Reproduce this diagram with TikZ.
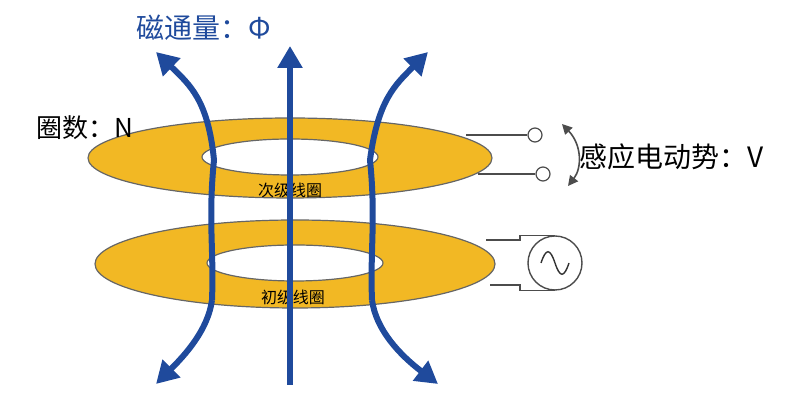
\documentclass[tikz,border=0pt]{standalone}
\usepackage{fontspec}
\setmainfont{Noto Sans CJK SC}
\usetikzlibrary{arrows.meta}
\definecolor{fluxblue}{HTML}{1F4A9C}
\definecolor{coilyellow}{HTML}{F2B824}
\tikzset{
  coil/.style={fill=coilyellow,draw=black!60,line width=0.6pt,even odd rule},
  flux/.style={fluxblue,line width=3pt,-{Triangle[width=12pt,length=11pt]}},
  lead/.style={draw=black!70,line width=0.6pt},
  term/.style={circle,draw=black!70,fill=white,line width=0.6pt,minimum size=7pt,inner sep=0pt}
}
\begin{document}
\begin{tikzpicture}[x=0.5pt,y=-0.5pt]
\useasboundingbox (0,0) rectangle (800,410);

% primary coil
\fill[coil] (295,264) ellipse [x radius=200,y radius=44] (295,263) ellipse [x radius=88,y radius=18];
\node[font=\fontsize{8}{9}\selectfont] (prim) at (293,297) {初级线圈};

% secondary coil
\fill[coil] (290,158) ellipse [x radius=202,y radius=40] (290,157) ellipse [x radius=88,y radius=18];
\node[font=\fontsize{8}{9}\selectfont] (sec) at (290,190) {次级线圈};

% flux lines
\draw[flux] (290,385) -- (290,46);
\draw[flux] (212,300) .. controls (214,250) and (208,220) .. (214,160)
  .. controls (208,100) and (190,85) .. (156,52);
\draw[flux] (372,300) .. controls (370,250) and (376,220) .. (370,160)
  .. controls (378,100) and (395,85) .. (428,52);
\draw[flux] (212,300) .. controls (208,330) and (185,355) .. (156,384);
\draw[flux] (372,300) .. controls (376,330) and (400,355) .. (438,384);

% secondary leads
\node[term] (t1) at (535,135) {};
\node[term] (t2) at (543,174) {};
\coordinate (s1) at (466,135);
\coordinate (s2) at (478,174);
\draw[lead] (s1) -- (t1);
\draw[lead] (s2) -- (t2);
\coordinate (v1) at (562,124);
\coordinate (v2) at (568,186);
\draw[black!70,line width=0.8pt,{Triangle[width=5pt,length=5pt]}-{Triangle[width=5pt,length=5pt]}]
  (v1) .. controls (582,145) and (582,168) .. (v2);

% primary source
\node[circle,draw=black!70,line width=0.7pt,minimum size=27pt,inner sep=0pt] (src) at (555,263) {};
\draw[black!80,line width=0.7pt] (541,263) .. controls (546,248) and (550,248) .. (555,263)
  .. controls (560,278) and (564,278) .. (569,263);
\coordinate (p1) at (486,240);
\coordinate (p2) at (490,285);
\draw[lead] (p1) -- (520,240) |- (src.north);
\draw[lead] (p2) -- (520,285) |- (src.south);

% labels
\node[fluxblue,font=\fontsize{14}{16}\selectfont] (phi) at (204,28) {磁通量：Φ};
\node[font=\fontsize{13}{15}\selectfont] (turns) at (85,128) {圈数：N};
\node[font=\fontsize{14}{16}\selectfont] (emf) at (672,157) {感应电动势：V};
\end{tikzpicture}
\end{document}
